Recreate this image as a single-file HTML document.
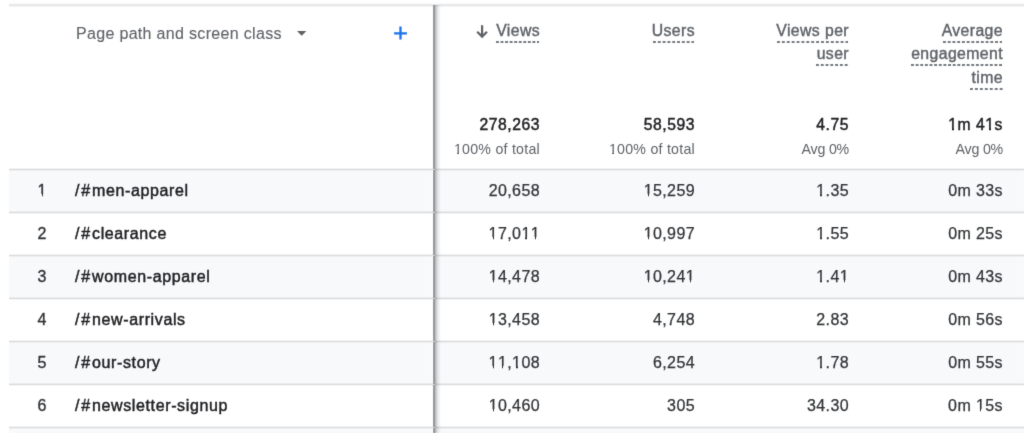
<!DOCTYPE html>
<html><head><meta charset="utf-8">
<style>
*{box-sizing:border-box;margin:0;padding:0}
html,body{width:1024px;height:433px;overflow:hidden;background:#fff}
body{position:relative;font-family:"Liberation Sans",sans-serif;color:#202124}
#w{position:absolute;left:4px;top:4px;width:1024px;height:433px;will-change:transform}
#fw{position:absolute;left:-4px;top:-4px;width:1032px;height:444px;background:#fff;filter:url(#sf);overflow:hidden}
.a{position:absolute;white-space:nowrap}
.hl{position:absolute;left:9px;right:0;height:1px;background:#dfe0e1}
.rowbg{position:absolute;left:9px;right:0;height:42px;background:#f8f9fa}
.h{position:absolute;white-space:nowrap;font-size:15.8px;color:#5f6368;line-height:17px;letter-spacing:0.4px;text-align:right;-webkit-text-stroke:0.42px #5f6368}
.h span{display:inline-block;padding-bottom:4px}
.tot{font-size:15.7px;color:#202124;-webkit-text-stroke:0.45px #202124;text-align:right;line-height:17px;letter-spacing:0.55px}
.sub{font-size:14.2px;color:#5f6368;text-align:right;line-height:16px;letter-spacing:0.25px}
.num{font-size:16px;color:#303336;-webkit-text-stroke:0.25px #303336;text-align:right;line-height:17px;letter-spacing:0.4px}
.idx{font-size:16px;color:#303336;line-height:17px;-webkit-text-stroke:0.35px #303336}
.o{position:relative}
.o::before,.o::after{content:"";position:absolute;top:0.76em;height:0.25em;background:var(--bg)}
.o::before{left:0.04em;width:0.21em}
.o::after{left:0.342em;width:0.205em}
.path{font-size:16px;color:#202124;-webkit-text-stroke:0.45px #202124;line-height:17px;letter-spacing:0.62px}
</style></head><body><svg width="0" height="0" style="position:absolute"><filter id="sf" x="0" y="0" width="100%" height="100%" color-interpolation-filters="sRGB"><feConvolveMatrix order="3" kernelMatrix="0.0112 0.0835 0.0112 0.0835 0.6209 0.0835 0.0112 0.0835 0.0112" edgeMode="duplicate" preserveAlpha="true"/></filter></svg><div id="fw"><div id="w">
<div class="a" style="left:9px;right:0;top:3px;height:4px;background:linear-gradient(#f9f9f9 0 1px,#e9eaec 1px 2px,#e6e7e9 2px 3px,#f4f4f5 3px 4px)"></div>
<div class="rowbg" style="top:170px"></div>
<div class="rowbg" style="top:256px"></div>
<div class="rowbg" style="top:342px"></div>
<div class="rowbg" style="top:428px"></div>
<div class="a" style="left:9px;right:0;top:168px;height:3px;background:linear-gradient(rgb(243,243,244) 0 1px,rgb(218,219,220) 1px 2px,rgb(239,239,240) 2px 3px)"></div>
<div class="a" style="left:9px;right:0;top:211px;height:3px;background:linear-gradient(rgb(236,236,237) 0 1px,rgb(218,219,220) 1px 2px,rgb(246,246,247) 2px 3px)"></div>
<div class="a" style="left:9px;right:0;top:254px;height:3px;background:linear-gradient(rgb(243,243,244) 0 1px,rgb(218,219,220) 1px 2px,rgb(239,239,240) 2px 3px)"></div>
<div class="a" style="left:9px;right:0;top:297px;height:3px;background:linear-gradient(rgb(236,236,237) 0 1px,rgb(218,219,220) 1px 2px,rgb(246,246,247) 2px 3px)"></div>
<div class="a" style="left:9px;right:0;top:340px;height:3px;background:linear-gradient(rgb(243,243,244) 0 1px,rgb(218,219,220) 1px 2px,rgb(239,239,240) 2px 3px)"></div>
<div class="a" style="left:9px;right:0;top:383px;height:3px;background:linear-gradient(rgb(236,236,237) 0 1px,rgb(218,219,220) 1px 2px,rgb(246,246,247) 2px 3px)"></div>
<div class="a" style="left:9px;right:0;top:426px;height:3px;background:linear-gradient(rgb(243,243,244) 0 1px,rgb(218,219,220) 1px 2px,rgb(239,239,240) 2px 3px)"></div>
<div class="a" style="left:76px;top:24px;font-size:16px;color:#5f6368;line-height:19px;-webkit-text-stroke:0.12px #5f6368;letter-spacing:0.32px">Page path and screen class</div>
<svg class="a" style="left:297.3px;top:31px" width="9.4" height="5" viewBox="0 0 9.4 5"><path d="M0 0h9.4L4.7 4.7z" fill="#5f6368"/></svg>
<svg class="a" style="left:393px;top:26px" width="15" height="15" viewBox="0 0 15 15"><path d="M7.5 0.6v12.8M1.1 7.3h12.8" stroke="#1a73e8" stroke-width="2.3" fill="none"/></svg>
<svg class="a" style="left:472px;top:20px" width="20" height="20" viewBox="0 0 20 20"><rect x="9" y="5.2" width="2.2" height="10.5" fill="#5f6368"/><path d="M5.2 11.7L10.1 16.6L15 11.7" stroke="#5f6368" stroke-width="2.2" fill="none"/></svg>
<div class="h" style="right:484px;top:22px"><span class="hs">Views</span></div>
<div class="h" style="right:329px;top:22px"><span class="hs">Users</span></div>
<div class="h" style="right:175px;top:22px"><span class="hs">Views per</span></div>
<div class="h" style="right:175px;top:45px"><span class="hs">user</span></div>
<div class="h" style="right:21px;top:22px"><span class="hs">Average</span></div>
<div class="h" style="right:21px;top:45px"><span class="hs">engagement</span></div>
<div class="h" style="right:21px;top:69px"><span class="hs">time</span></div>
<div class="a tot" style="right:484px;top:116px">278,263</div>
<div class="a tot" style="right:329px;top:116px">58,593</div>
<div class="a tot" style="right:175px;top:116px">4.75</div>
<div class="a tot" style="right:21px;top:116px"><span class="o" style="--bg:#fff">1</span>m 4<span class="o" style="--bg:#fff">1</span>s</div>
<div class="a sub" style="right:484px;top:141px"><span class="o" style="--bg:#fff">1</span>00% of total</div>
<div class="a sub" style="right:329px;top:141px"><span class="o" style="--bg:#fff">1</span>00% of total</div>
<div class="a sub" style="right:175px;top:141px;letter-spacing:-0.2px">Avg 0%</div>
<div class="a sub" style="right:21px;top:141px;letter-spacing:-0.2px">Avg 0%</div>
<div class="a idx" style="left:37.6px;top:182px"><span class="o" style="--bg:#f8f9fa">1</span></div>
<div class="a path" style="left:75px;top:182px"><span style="letter-spacing:1.83px">/#</span>men-apparel</div>
<div class="a num" style="right:484px;top:182px">20,658</div>
<div class="a num" style="right:329px;top:182px"><span class="o" style="--bg:#f8f9fa">1</span>5,259</div>
<div class="a num" style="right:175px;top:182px"><span class="o" style="--bg:#f8f9fa">1</span>.35</div>
<div class="a num" style="right:21px;top:182px">0m 33s</div>
<div class="a idx" style="left:37.6px;top:225px">2</div>
<div class="a path" style="left:75px;top:225px"><span style="letter-spacing:1.83px">/#</span>clearance</div>
<div class="a num" style="right:484px;top:225px"><span class="o" style="--bg:#fff">1</span>7,0<span class="o" style="--bg:#fff">1</span><span class="o" style="--bg:#fff">1</span></div>
<div class="a num" style="right:329px;top:225px"><span class="o" style="--bg:#fff">1</span>0,997</div>
<div class="a num" style="right:175px;top:225px"><span class="o" style="--bg:#fff">1</span>.55</div>
<div class="a num" style="right:21px;top:225px">0m 25s</div>
<div class="a idx" style="left:37.6px;top:268px">3</div>
<div class="a path" style="left:75px;top:268px"><span style="letter-spacing:1.83px">/#</span>women-apparel</div>
<div class="a num" style="right:484px;top:268px"><span class="o" style="--bg:#f8f9fa">1</span>4,478</div>
<div class="a num" style="right:329px;top:268px"><span class="o" style="--bg:#f8f9fa">1</span>0,24<span class="o" style="--bg:#f8f9fa">1</span></div>
<div class="a num" style="right:175px;top:268px"><span class="o" style="--bg:#f8f9fa">1</span>.4<span class="o" style="--bg:#f8f9fa">1</span></div>
<div class="a num" style="right:21px;top:268px">0m 43s</div>
<div class="a idx" style="left:37.6px;top:311px">4</div>
<div class="a path" style="left:75px;top:311px"><span style="letter-spacing:1.83px">/#</span>new-arrivals</div>
<div class="a num" style="right:484px;top:311px"><span class="o" style="--bg:#fff">1</span>3,458</div>
<div class="a num" style="right:329px;top:311px">4,748</div>
<div class="a num" style="right:175px;top:311px">2.83</div>
<div class="a num" style="right:21px;top:311px">0m 56s</div>
<div class="a idx" style="left:37.6px;top:354px">5</div>
<div class="a path" style="left:75px;top:354px"><span style="letter-spacing:1.83px">/#</span>our-story</div>
<div class="a num" style="right:484px;top:354px"><span class="o" style="--bg:#f8f9fa">1</span><span class="o" style="--bg:#f8f9fa">1</span>,<span class="o" style="--bg:#f8f9fa">1</span>08</div>
<div class="a num" style="right:329px;top:354px">6,254</div>
<div class="a num" style="right:175px;top:354px"><span class="o" style="--bg:#f8f9fa">1</span>.78</div>
<div class="a num" style="right:21px;top:354px">0m 55s</div>
<div class="a idx" style="left:37.6px;top:397px">6</div>
<div class="a path" style="left:75px;top:397px"><span style="letter-spacing:1.83px">/#</span>newsletter-signup</div>
<div class="a num" style="right:484px;top:397px"><span class="o" style="--bg:#fff">1</span>0,460</div>
<div class="a num" style="right:329px;top:397px">305</div>
<div class="a num" style="right:175px;top:397px">34.30</div>
<div class="a num" style="right:21px;top:397px">0m <span class="o" style="--bg:#fff">1</span>5s</div>
<svg class="a" style="left:495.6px;top:41px" width="43.90" height="2"><line x1="0" y1="1" x2="43.90" y2="1" stroke="#767b80" stroke-width="2" stroke-dasharray="2.9 1.656"/></svg>
<svg class="a" style="left:652.6px;top:41px" width="41.40" height="2"><line x1="0" y1="1" x2="41.40" y2="1" stroke="#767b80" stroke-width="2" stroke-dasharray="2.9 1.912"/></svg>
<svg class="a" style="left:776.6px;top:41px" width="71.40" height="2"><line x1="0" y1="1" x2="71.40" y2="1" stroke="#767b80" stroke-width="2" stroke-dasharray="2.9 1.993"/></svg>
<svg class="a" style="left:816.4px;top:64px" width="31.60" height="2"><line x1="0" y1="1" x2="31.60" y2="1" stroke="#767b80" stroke-width="2" stroke-dasharray="2.9 1.883"/></svg>
<svg class="a" style="left:942.8px;top:41px" width="59.70" height="2"><line x1="0" y1="1" x2="59.70" y2="1" stroke="#767b80" stroke-width="2" stroke-dasharray="2.9 1.833"/></svg>
<svg class="a" style="left:911.3px;top:64px" width="91.00" height="2"><line x1="0" y1="1" x2="91.00" y2="1" stroke="#767b80" stroke-width="2" stroke-dasharray="2.9 1.737"/></svg>
<svg class="a" style="left:970.0px;top:88px" width="32.60" height="2"><line x1="0" y1="1" x2="32.60" y2="1" stroke="#767b80" stroke-width="2" stroke-dasharray="2.9 2.050"/></svg>
<div class="a" style="left:433px;top:5px;width:2px;height:428px;background:#979b9f"></div>
<div class="a" style="left:435px;top:5px;width:6px;height:428px;background:linear-gradient(to right,rgba(60,64,67,.35) 0.5px,rgba(60,64,67,.23) 1.5px,rgba(60,64,67,.145) 2.5px,rgba(60,64,67,.095) 3.5px,rgba(60,64,67,.05) 4.5px,rgba(60,64,67,.02) 5.5px,rgba(60,64,67,0) 6px)"></div>
<div class="a" style="left:432px;top:170px;width:1px;height:41px;background:#fff"></div>
<div class="a" style="left:432px;top:256px;width:1px;height:41px;background:#fff"></div>
<div class="a" style="left:432px;top:342px;width:1px;height:41px;background:#fff"></div>
<div class="a" style="left:432px;top:428px;width:1px;height:5px;background:#fff"></div>
<div class="a" style="left:433px;top:169px;width:2px;height:1px;background:#d4d5d6"></div>
<div class="a" style="left:433px;top:212px;width:2px;height:1px;background:#d4d5d6"></div>
<div class="a" style="left:433px;top:255px;width:2px;height:1px;background:#d4d5d6"></div>
<div class="a" style="left:433px;top:298px;width:2px;height:1px;background:#d4d5d6"></div>
<div class="a" style="left:433px;top:341px;width:2px;height:1px;background:#d4d5d6"></div>
<div class="a" style="left:433px;top:384px;width:2px;height:1px;background:#d4d5d6"></div>
<div class="a" style="left:433px;top:427px;width:2px;height:1px;background:#d4d5d6"></div>
</div></div></body></html>
